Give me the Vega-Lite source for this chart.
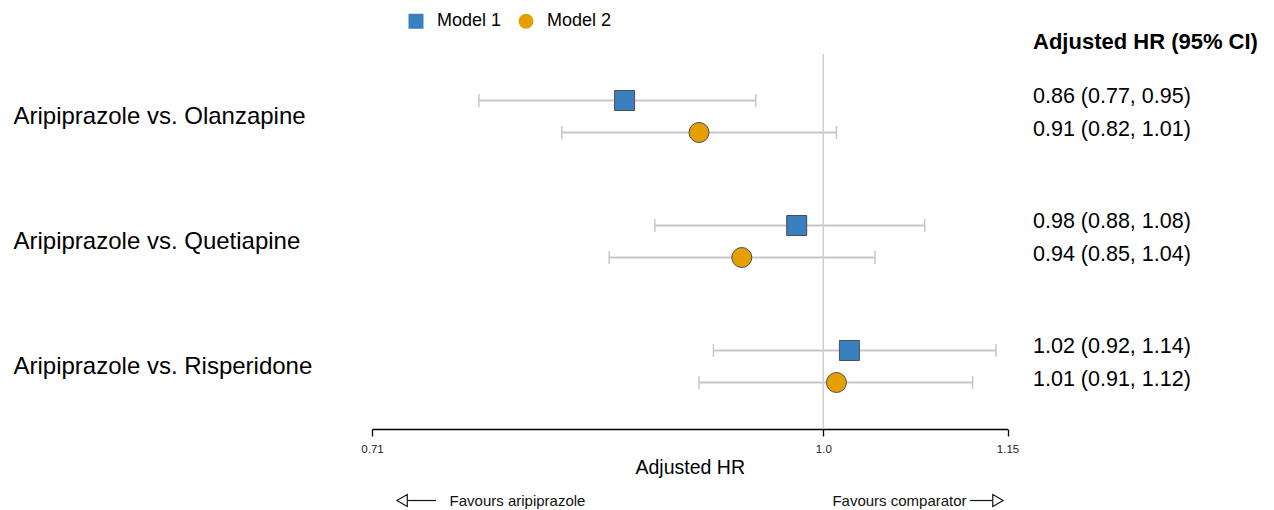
{
  "$schema": "https://vega.github.io/schema/vega-lite/v6.json",
  "width": 635.5,
  "height": 375,
  "autosize": {"type": "none"},
  "padding": {"left": 372, "top": 54, "right": 266.5, "bottom": 81},
  "config": {
    "font": "Liberation Sans",
    "view": {"stroke": null},
    "axis": {"grid": false},
    "axisX": {
      "labelExpr": "datum.value === 1 ? '1.0' : format(datum.value, '.2f')",
      "labelFlush": false,
      "domainColor": "black",
      "domainWidth": 1.3,
      "tickColor": "black",
      "tickSize": 7,
      "tickWidth": 1.3,
      "labelFontSize": 11.5,
      "labelColor": "#222222",
      "labelPadding": 7,
      "labelOverlap": false,
      "titleFontSize": 19.5,
      "titleFontWeight": "normal",
      "titleColor": "black",
      "titlePadding": 4
    }
  },
  "datasets": {
    "forest": [
      {"comparison": "Aripiprazole vs. Olanzapine", "model": "Model 1", "hr": 0.86, "lo": 0.77, "hi": 0.95, "ci": "0.86 (0.77, 0.95)"},
      {"comparison": "Aripiprazole vs. Olanzapine", "model": "Model 2", "hr": 0.91, "lo": 0.82, "hi": 1.01, "ci": "0.91 (0.82, 1.01)"},
      {"comparison": "Aripiprazole vs. Quetiapine", "model": "Model 1", "hr": 0.98, "lo": 0.88, "hi": 1.08, "ci": "0.98 (0.88, 1.08)"},
      {"comparison": "Aripiprazole vs. Quetiapine", "model": "Model 2", "hr": 0.94, "lo": 0.85, "hi": 1.04, "ci": "0.94 (0.85, 1.04)"},
      {"comparison": "Aripiprazole vs. Risperidone", "model": "Model 1", "hr": 1.02, "lo": 0.92, "hi": 1.14, "ci": "1.02 (0.92, 1.14)"},
      {"comparison": "Aripiprazole vs. Risperidone", "model": "Model 2", "hr": 1.01, "lo": 0.91, "hi": 1.12, "ci": "1.01 (0.91, 1.12)"}
    ],
    "favours": [
      {"label": "Favours aripiprazole", "x": 0.7929},
      {"label": "Favours comparator", "x": 1.0595}
    ],
    "arrows": [
      {"start": 0.7297, "end": 0.7453, "tip": 0.7264, "head": "triangle-left"},
      {"start": 1.1177, "end": 1.1366, "tip": 1.1417, "head": "triangle-right"}
    ],
    "header": [
      {"title": "Adjusted HR (95% CI)", "x": 1.1725}
    ]
  },
  "resolve": {"scale": {"y": "independent"}},
  "layer": [
    {
      "data": {"name": "forest"},
      "encoding": {
        "y": {
          "field": "comparison",
          "type": "nominal",
          "sort": null,
          "scale": {"paddingInner": 0, "paddingOuter": 0},
          "axis": {
            "title": null,
            "domain": false,
            "ticks": false,
            "tickSize": 0,
            "labelAlign": "left",
            "labelPadding": 359,
            "labelFontSize": 24,
            "labelColor": "black",
            "labelLimit": 400
          }
        },
        "yOffset": {
          "field": "model",
          "type": "nominal",
          "sort": ["Model 1", "Model 2"],
          "scale": {"paddingInner": 0, "paddingOuter": 0.953}
        }
      },
      "layer": [
        {
          "mark": {"type": "rule", "color": "#c8c8c8", "strokeWidth": 2},
          "encoding": {
            "x": {"field": "lo", "type": "quantitative", "scale": {"type": "log", "domain": [0.71, 1.15], "nice": false}, "axis": {"title": "Adjusted HR", "values": [0.71, 1, 1.15]}},
            "x2": {"field": "hi"}
          }
        },
        {
          "mark": {"type": "tick", "color": "#c8c8c8", "size": 13, "thickness": 1.5, "opacity": 1},
          "encoding": {"x": {"field": "lo", "type": "quantitative", "scale": {"type": "log", "domain": [0.71, 1.15], "nice": false}, "axis": {"title": "Adjusted HR", "values": [0.71, 1, 1.15]}}}
        },
        {
          "mark": {"type": "tick", "color": "#c8c8c8", "size": 13, "thickness": 1.5, "opacity": 1},
          "encoding": {"x": {"field": "hi", "type": "quantitative", "scale": {"type": "log", "domain": [0.71, 1.15], "nice": false}, "axis": {"title": "Adjusted HR", "values": [0.71, 1, 1.15]}}}
        },
        {
          "mark": {"type": "point", "filled": true, "size": 400, "opacity": 1, "stroke": "#4d4d4d", "strokeWidth": 1},
          "encoding": {
            "x": {"field": "hr", "type": "quantitative", "scale": {"type": "log", "domain": [0.71, 1.15], "nice": false}, "axis": {"title": "Adjusted HR", "values": [0.71, 1, 1.15]}},
            "color": {
              "field": "model",
              "type": "nominal",
              "scale": {"domain": ["Model 1", "Model 2"], "range": ["#3A7FBF", "#E69F00"]},
              "legend": {
                "title": null,
                "orient": "none",
                "legendX": 35,
                "legendY": -42,
                "direction": "horizontal",
                "labelFontSize": 18,
                "labelColor": "black",
                "symbolSize": 225,
                "symbolStrokeColor": "#4d4d4d",
                "symbolStrokeWidth": 1,
                "symbolOpacity": 1,
                "labelOffset": 12,
                "columnPadding": 14
              }
            },
            "shape": {
              "field": "model",
              "type": "nominal",
              "scale": {"domain": ["Model 1", "Model 2"], "range": ["square", "circle"]},
              "legend": {
                "title": null,
                "orient": "none",
                "legendX": 35,
                "legendY": -42,
                "direction": "horizontal",
                "labelFontSize": 18,
                "labelColor": "black",
                "symbolSize": 225,
                "symbolStrokeColor": "#4d4d4d",
                "symbolStrokeWidth": 1,
                "symbolOpacity": 1,
                "labelOffset": 12,
                "columnPadding": 14
              }
            }
          }
        },
        {
          "mark": {"type": "text", "align": "left", "baseline": "middle", "fontSize": 21.5, "color": "black", "dy": -3},
          "encoding": {
            "x": {"datum": 1.1725, "type": "quantitative", "scale": {"type": "log", "domain": [0.71, 1.15], "nice": false}, "axis": {"title": "Adjusted HR", "values": [0.71, 1, 1.15]}},
            "text": {"field": "ci"}
          }
        }
      ]
    },
    {
      "data": {"values": [{"ref": 1}]},
      "mark": {"type": "rule", "color": "#cfcfcf", "strokeWidth": 1.5},
      "encoding": {
        "x": {"field": "ref", "type": "quantitative", "scale": {"type": "log", "domain": [0.71, 1.15], "nice": false}, "axis": {"title": "Adjusted HR", "values": [0.71, 1, 1.15]}}
      }
    },
    {
      "data": {"name": "header"},
      "mark": {"type": "text", "align": "left", "baseline": "middle", "fontSize": 22, "fontWeight": "bold", "color": "black"},
      "encoding": {
        "x": {"field": "x", "type": "quantitative", "scale": {"type": "log", "domain": [0.71, 1.15], "nice": false}, "axis": {"title": "Adjusted HR", "values": [0.71, 1, 1.15]}},
        "y": {"datum": 1.0307, "type": "quantitative", "scale": {"domain": [0, 1], "nice": false}, "axis": null},
        "text": {"field": "title"}
      }
    },
    {
      "data": {"name": "favours"},
      "mark": {"type": "text", "align": "center", "baseline": "middle", "fontSize": 15, "color": "#111111"},
      "encoding": {
        "x": {"field": "x", "type": "quantitative", "scale": {"type": "log", "domain": [0.71, 1.15], "nice": false}, "axis": {"title": "Adjusted HR", "values": [0.71, 1, 1.15]}},
        "y": {"datum": -0.1907, "type": "quantitative", "scale": {"domain": [0, 1], "nice": false}, "axis": null},
        "text": {"field": "label"}
      }
    },
    {
      "data": {"name": "arrows"},
      "mark": {"type": "rule", "color": "#111111", "strokeWidth": 1.2},
      "encoding": {
        "x": {"field": "start", "type": "quantitative", "scale": {"type": "log", "domain": [0.71, 1.15], "nice": false}, "axis": {"title": "Adjusted HR", "values": [0.71, 1, 1.15]}},
        "x2": {"field": "end"},
        "y": {"datum": -0.1907, "type": "quantitative", "scale": {"domain": [0, 1], "nice": false}, "axis": null}
      }
    },
    {
      "data": {"name": "arrows"},
      "mark": {"type": "point", "filled": false, "fill": "white", "stroke": "#111111", "strokeWidth": 1.2, "size": 144, "opacity": 1},
      "encoding": {
        "x": {"field": "tip", "type": "quantitative", "scale": {"type": "log", "domain": [0.71, 1.15], "nice": false}, "axis": {"title": "Adjusted HR", "values": [0.71, 1, 1.15]}},
        "y": {"datum": -0.1907, "type": "quantitative", "scale": {"domain": [0, 1], "nice": false}, "axis": null},
        "shape": {"field": "head", "type": "nominal", "scale": null, "legend": null}
      }
    }
  ]
}
